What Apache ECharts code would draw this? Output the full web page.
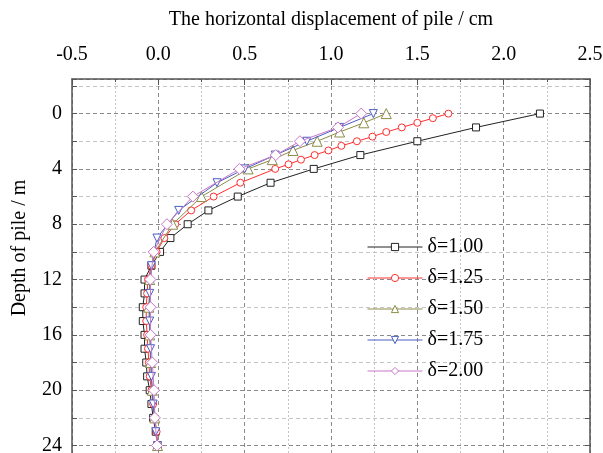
<!DOCTYPE html>
<html>
<head>
<meta charset="utf-8">
<script src="https://cdn.jsdelivr.net/npm/echarts@6/dist/echarts.min.js"></script>
<style>html,body{margin:0;padding:0;background:#fff;}#c{width:603px;height:453px;}</style>
</head>
<body>
<div id="c"></div>
<script>
const seriesNames = ['δ=1.00', 'δ=1.25', 'δ=1.50', 'δ=1.75', 'δ=2.00'];
const xTitle = 'The horizontal displacement of pile / cm';
const yTitle = 'Depth of pile / m';

const depth100 = [0,1,2,3,4,5,6,7,8,9,10,11,12,13,14,15,16,17,18,19,20,21,22,23,24];
const disp100  = [2.21,1.84,1.50,1.17,0.90,0.65,0.46,0.29,0.17,0.07,0.01,-0.04,-0.08,-0.08,-0.09,-0.09,-0.08,-0.08,-0.07,-0.065,-0.05,-0.04,-0.03,-0.015,-0.005];

const depth125 = [0,0.333,0.667,1,1.333,1.667,2,2.333,2.667,3,3.333,3.667,4,5,6,7,8,9,10,11,12,13,14,15,16,17,18,19,20,21,22,23,24];
const disp125  = [1.68,1.59,1.50,1.41,1.32,1.24,1.15,1.06,0.985,0.905,0.826,0.754,0.677,0.475,0.32,0.19,0.098,0.035,-0.01,-0.04,-0.06,-0.065,-0.07,-0.07,-0.065,-0.06,-0.055,-0.05,-0.04,-0.03,-0.02,-0.01,-0.003];

const depth150 = [0,0.667,1.333,2,2.667,3.333,4,6,8,10,12,14,16,18,20,22,24];
const disp150  = [1.32,1.19,1.05,0.92,0.78,0.66,0.52,0.25,0.083,-0.02,-0.05,-0.055,-0.05,-0.045,-0.035,-0.02,-0.005];

const depth175 = [0,1,2,3,4,5,7,9,11,13,15,17,19,21,23,24];
const disp175  = [1.245,1.05,0.86,0.677,0.50,0.34,0.118,-0.008,-0.04,-0.05,-0.05,-0.045,-0.04,-0.03,-0.015,-0.005];

const depth200 = [0,1,2,3,4,6,8,10,12,14,16,18,20,22,24];
const disp200  = [1.175,1.04,0.82,0.68,0.47,0.2,0.05,-0.027,-0.046,-0.045,-0.045,-0.035,-0.025,-0.02,-0.008];

const xTickLabels = ['-0.5','0.0','0.5','1.0','1.5','2.0','2.5'];
const yTickLabels = ['0','4','8','12','16','20','24'];

const colors = ['#222222', '#ff2e2e', '#8c8c48', '#4a5ec0', '#c977c9'];
const symbols = ['rect', 'circle', 'triangle', 'triangle', 'diamond'];
const symbolSizes = [7, 7, 10, 8, 11];
const rotations = [0, 0, 0, 180, 0];
const depths = [depth100, depth125, depth150, depth175, depth200];
const disps = [disp100, disp125, disp150, disp175, disp200];

const FONT = 'Liberation Serif';

const series = seriesNames.map((name, i) => ({
  name: name,
  type: 'line',
  xAxisIndex: 0,
  yAxisIndex: 0,
  data: depths[i].map((d, k) => [disps[i][k], d]),
  symbol: symbols[i],
  symbolSize: symbolSizes[i],
  symbolRotate: rotations[i],
  showAllSymbol: true,
  color: colors[i],
  lineStyle: { color: colors[i], width: 1 },
  itemStyle: { color: '#fff', borderColor: colors[i], borderWidth: 1 },
  z: 2 + i
}));

const chart = echarts.init(document.getElementById('c'), null, { renderer: 'canvas' });
chart.setOption({
  animation: false,
  backgroundColor: '#fff',
  grid: { left: 72, right: 13, top: 79, bottom: 0, containLabel: false, outerBoundsMode: 'none' },
  xAxis: [{
    type: 'value',
    position: 'top',
    min: -0.5, max: 2.5, interval: 0.5,
    name: xTitle,
    nameLocation: 'middle',
    nameGap: 49,
    nameTextStyle: { fontFamily: FONT, fontSize: 20, color: '#000' },
    axisLine: { show: true, onZero: false, lineStyle: { color: '#555', width: 1.5 } },
    axisTick: { show: true, inside: true, length: 6, lineStyle: { color: '#555' } },
    minorTick: { show: true, splitNumber: 2, length: 3, lineStyle: { color: '#555' } },
    axisLabel: {
      fontFamily: FONT, fontSize: 20, color: '#000', margin: 14,
      formatter: v => { const s = v.toFixed(1); return xTickLabels.indexOf(s) >= 0 ? s : ''; }
    },
    splitLine: { show: true, lineStyle: { color: '#8a8a8a', type: [4, 3], width: 1 } },
    minorSplitLine: { show: true, lineStyle: { color: '#c4c4c4', type: [2, 2], width: 1 } }
  }],
  yAxis: [{
    type: 'value',
    inverse: true,
    position: 'left',
    min: -2.5, max: 24.54, splitNumber: 14,
    axisLine: { show: true, onZero: false, lineStyle: { color: '#555', width: 1.5 } },
    axisTick: { show: true, inside: true, length: 5, lineStyle: { color: '#555' } },
    axisLabel: {
      fontFamily: FONT, fontSize: 20, color: '#000', margin: 10,
      formatter: v => { const s = String(Math.round(v * 1000) / 1000); return yTickLabels.indexOf(s) >= 0 ? s : ''; }
    },
    splitLine: { show: true, lineStyle: { color: ['#8a8a8a', '#c4c4c4'], type: [4, 3], width: 1 } }
  }, {
    type: 'value',
    inverse: true,
    position: 'right',
    min: -2.5, max: 24.54, splitNumber: 14,
    axisLine: { show: true, onZero: false, lineStyle: { color: '#555', width: 1.5 } },
    axisTick: { show: true, inside: true, length: 5, lineStyle: { color: '#555' } },
    axisLabel: { show: false },
    splitLine: { show: false }
  }],
  legend: {
    orient: 'vertical',
    left: 362, top: 232,
    itemWidth: 55, itemHeight: 9, itemGap: 11,
    lineStyle: { width: 1 },
    itemStyle: { borderWidth: 1 },
    textStyle: { fontFamily: FONT, fontSize: 20, color: '#000', lineHeight: 20 },
    data: seriesNames
  },
  graphic: [{
    type: 'text',
    x: 20, y: 248,
    rotation: Math.PI / 2,
    style: { text: yTitle, fontFamily: FONT, fontSize: 20, fill: '#000', textAlign: 'center', textVerticalAlign: 'middle' }
  }],
  series: series
});
</script>
</body>
</html>
